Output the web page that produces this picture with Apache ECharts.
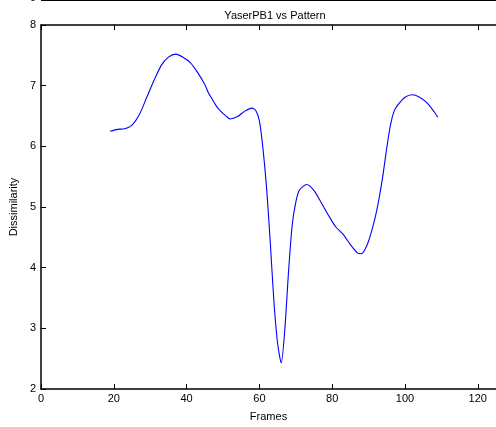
<!DOCTYPE html>
<html>
<head>
<meta charset="utf-8">
<script src="https://cdn.jsdelivr.net/npm/echarts@6/dist/echarts.min.js"></script>
<style>
	html, body {margin: 0; padding: 0; background: #fff;}
	#container {width: 496px; height: 427px;}
</style>
</head>
<body>
<div id="container"></div>
<script>
// values
const Frames = [19, 21, 23, 25, 27, 29, 31, 33, 35, 37, 39, 41, 43, 45, 46, 47, 48, 49, 51, 52, 54, 56, 58, 59, 60, 61, 62, 63, 64, 65, 66, 67, 68, 69, 70, 71, 73, 75, 77, 79, 81, 83, 85, 87, 88, 89, 90, 91, 92, 93, 94, 95, 96, 97, 98, 100, 102, 104, 106, 108, 109];
const Dissimilarity = [6.25, 6.28, 6.29, 6.35, 6.52, 6.80, 7.08, 7.33, 7.47, 7.52, 7.47, 7.38, 7.22, 7.02, 6.88, 6.78, 6.68, 6.60, 6.49, 6.45, 6.49, 6.58, 6.63, 6.59, 6.42, 5.95, 5.29, 4.40, 3.43, 2.75, 2.43, 3.00, 3.93, 4.70, 5.08, 5.28, 5.37, 5.27, 5.07, 4.86, 4.67, 4.55, 4.38, 4.24, 4.23, 4.30, 4.44, 4.64, 4.88, 5.18, 5.55, 5.98, 6.35, 6.58, 6.68, 6.81, 6.85, 6.81, 6.72, 6.57, 6.48];
const XTicks = [0, 20, 40, 60, 80, 100, 120];
const YTicks = [2, 3, 4, 5, 6, 7, 8];

const font = 'Liberation Sans, Arial, sans-serif';
const Points = [];
for (const Key in Frames) {
	Points[Key] = [Frames[Key], Dissimilarity[Key]];
}

const option = {
	animation: false,
	title: {
		text: 'YaserPB1 vs Pattern', left: 270, top: 5, textAlign: 'center',
		textStyle: {color: '#000', fontWeight: 'normal', fontSize: 11, fontFamily: font}
	},
	grid: {left: 41, top: 25, width: 458, height: 365, containLabel: false},
	xAxis: [{
		type: 'value', min: 0, max: 125, interval: 20, position: 'bottom',
		name: 'Frames', nameLocation: 'middle', nameGap: 22,
		nameTextStyle: {color: '#000', fontSize: 11, fontFamily: font},
		axisLine: {lineStyle: {color: '#000', width: 1.5}},
		axisTick: {inside: true, length: 5, customValues: XTicks, lineStyle: {color: '#000'}},
		axisLabel: {color: '#000', fontSize: 11, fontFamily: font, margin: 4, customValues: XTicks},
		splitLine: {show: false}
	}, {
		type: 'value', min: 0, max: 125, interval: 20, position: 'top',
		axisLine: {lineStyle: {color: '#000', width: 1.5}},
		axisTick: {inside: true, length: 5, customValues: XTicks, lineStyle: {color: '#000'}},
		axisLabel: {show: false}, splitLine: {show: false}
	}],
	yAxis: {
		type: 'value', min: 2, max: 8, interval: 1,
		name: 'Dissimilarity', nameLocation: 'middle', nameGap: 15, nameRotate: 90,
		nameTextStyle: {color: '#000', fontSize: 11, fontFamily: font},
		axisLine: {show: true, lineStyle: {color: '#000', width: 1.5}},
		axisTick: {show: true, inside: true, length: 5, lineStyle: {color: '#000'}},
		axisLabel: {color: '#000', fontSize: 11, fontFamily: font, margin: 5,
			formatter: v => YTicks.indexOf(v) >= 0 ? String(v) : ''},
		splitLine: {show: false}
	},
	graphic: [
		{type: 'line', shape: {x1: 41, y1: 0, x2: 496, y2: 0}, style: {stroke: '#000', lineWidth: 2}},
		{type: 'text', left: 30, top: -8, style: {text: '9', fill: '#000', fontSize: 11, fontFamily: font}}
	],
	series: [{
		type: 'line', data: Points, showSymbol: false, smooth: 0.25,
		lineStyle: {color: '#0000ff', width: 1.1}
	}]
};
echarts.init(document.getElementById('container')).setOption(option);
</script>
</body>
</html>
